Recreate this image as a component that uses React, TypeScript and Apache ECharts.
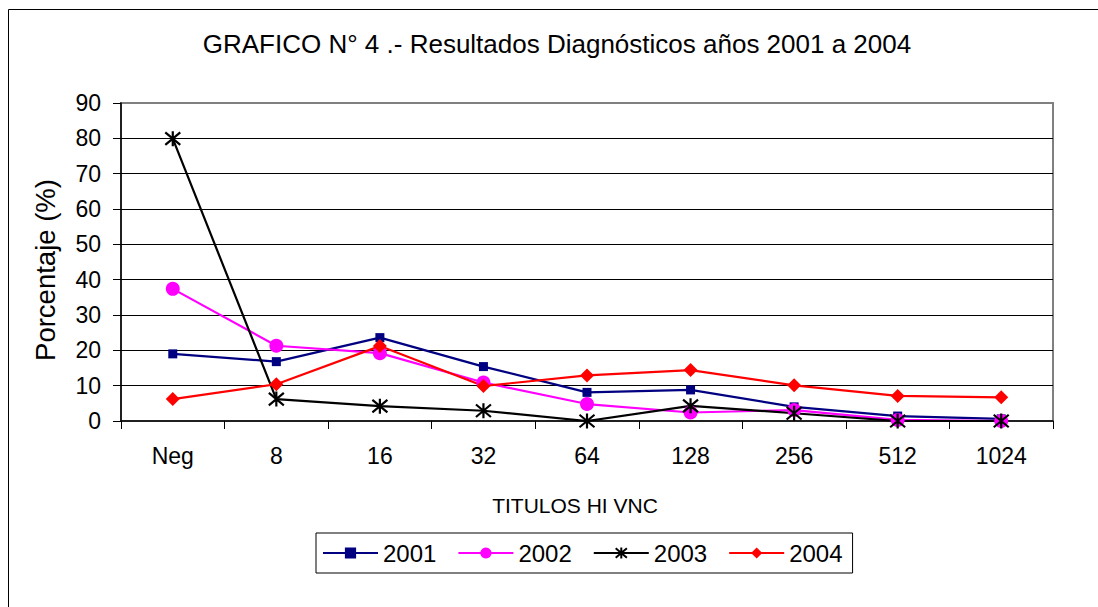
import React, { useEffect, useRef } from "react";
import * as echarts from "echarts";

const categories = ["Neg", "8", "16", "32", "64", "128", "256", "512", "1024"];
const s2001 = [19, 16.8, 23.6, 15.4, 8.1, 8.8, 4, 1.4, 0.6];
const s2002 = [37.4, 21.3, 19.2, 10.9, 4.8, 2.4, 3.1, 0.3, 0];
const s2003 = [79.9, 6.2, 4.2, 2.9, 0, 4.3, 2.2, 0, 0];
const s2004 = [6.2, 10.4, 21.2, 9.9, 12.9, 14.4, 10.1, 7.1, 6.7];
const yTicks = { min: 0, max: 90, interval: 10 };

const FONT = "'Liberation Sans', Arial, sans-serif";
const ASTERISK = "path://M0 0 L10 10 M10 0 L0 10 M5 -1 L5 11";

export default function App() {
  const ref = useRef<HTMLDivElement>(null);
  useEffect(() => {
    if (!ref.current) return;
    const chart = echarts.init(ref.current, null, { renderer: "svg" });
    const mk = (name: string, data: number[], color: string, symbol: string, size: number, extra: any = {}) => ({
      name,
      type: "line",
      data,
      symbol,
      symbolSize: size,
      lineStyle: { color, width: 2.2 },
      itemStyle: { color, ...extra },
      z: 3,
    });
    chart.setOption({
      animation: false,
      backgroundColor: "#fff",
      textStyle: { fontFamily: FONT },
      graphic: [
        {
          type: "rect",
          shape: { x: 8.5, y: 9.5, width: 2000, height: 2000 },
          style: { fill: "none", stroke: "#000", lineWidth: 1 },
          silent: true,
        },
        {
          type: "text",
          x: 557,
          y: 44,
          style: {
            text: "GRAFICO N° 4 .- Resultados Diagnósticos años 2001 a 2004",
            font: `26px ${FONT}`,
            fill: "#000",
            textAlign: "center",
            textVerticalAlign: "middle",
          },
        },
      ],
      grid: {
        left: 121,
        right: 45,
        top: 103,
        bottom: 186,
        show: true,
        borderColor: "#808080",
        borderWidth: 2,
        backgroundColor: "#fff",
      },
      legend: {
        left: 316,
        top: 533,
        orient: "horizontal",
        padding: [8, 10, 8, 6],
        borderColor: "#000",
        borderWidth: 1,
        itemWidth: 55,
        itemHeight: 14,
        itemGap: 21,
        textStyle: { fontSize: 24, fontFamily: FONT, color: "#000" },
        data: ["2001", "2002", "2003", "2004"],
      },
      xAxis: {
        type: "category",
        data: categories,
        boundaryGap: true,
        name: "TITULOS HI VNC",
        nameLocation: "middle",
        nameGap: 74,
        nameTextStyle: { fontSize: 21, fontFamily: FONT, color: "#000", padding: [0, 24, 0, 0] },
        axisLine: { lineStyle: { color: "#000", width: 1.5 } },
        axisTick: { show: true, length: 8, inside: false, alignWithLabel: false, lineStyle: { color: "#000" } },
        axisLabel: { fontSize: 23, color: "#000", fontFamily: FONT, margin: 23, interval: 0 },
        splitLine: { show: false },
      },
      yAxis: {
        type: "value",
        min: yTicks.min,
        max: yTicks.max,
        interval: yTicks.interval,
        name: "Porcentaje (%)",
        nameLocation: "middle",
        nameGap: 62,
        nameTextStyle: { fontSize: 27.5, fontFamily: FONT, color: "#000", padding: [0, 16, 0, 0] },
        axisLine: { show: true, lineStyle: { color: "#000", width: 1.5 } },
        axisTick: { show: true, length: 8, lineStyle: { color: "#000" } },
        axisLabel: { fontSize: 23, color: "#000", fontFamily: FONT, margin: 20 },
        splitLine: { show: true, showMaxLine: false, showMinLine: false, lineStyle: { color: "#000", width: 1 } },
      },
      series: [
        mk("2001", s2001, "#000080", "rect", 9),
        mk("2002", s2002, "#FF00FF", "circle", 14),
        mk("2003", s2003, "#000000", ASTERISK, 15, { borderColor: "#000", borderWidth: 2.2 }),
        mk("2004", s2004, "#FF0000", "diamond", 14),
      ],
    });
    return () => chart.dispose();
  }, []);
  return (
    <div
      ref={ref}
      style={{ position: "fixed", left: 0, top: 0, width: 1098, height: 607 }}
    />
  );
}
